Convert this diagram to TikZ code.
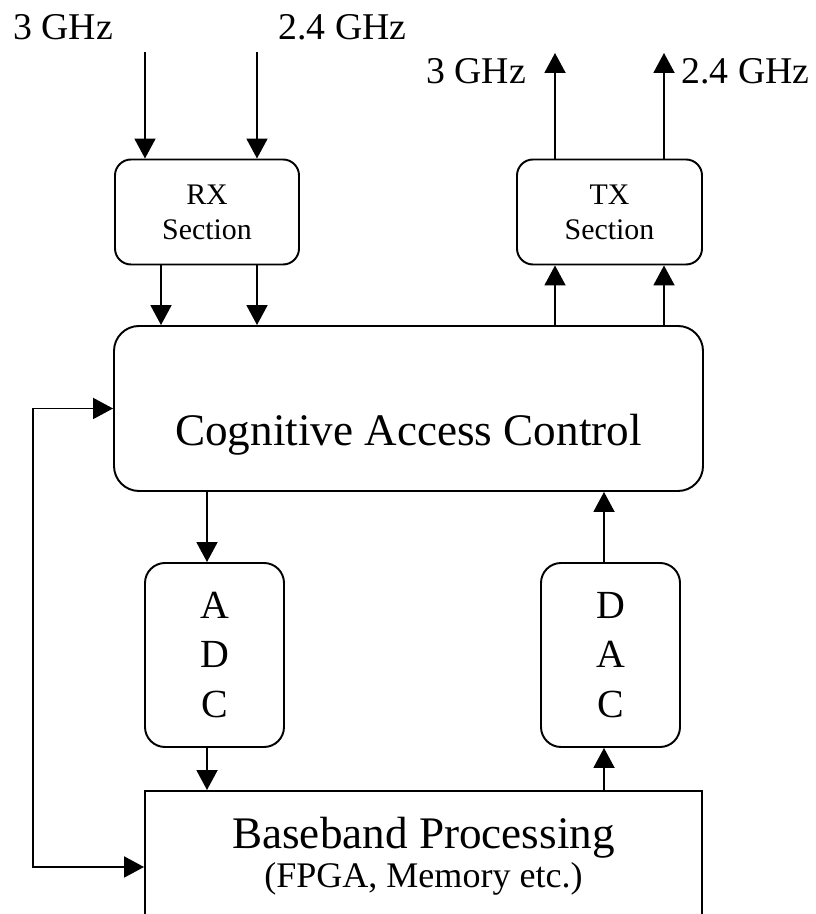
\documentclass[tikz,border=0pt]{standalone}
\usepackage{fontspec}
\setmainfont{Liberation Serif}
\usetikzlibrary{arrows.meta}

\begin{document}
\begin{tikzpicture}[line width=1.1pt, >={Triangle[length=0.4cm,width=0.42cm]},
        blk/.style={draw, rounded corners=0.32cm, align=center, inner sep=0pt},
        lbl/.style={font=\fontsize{21.5}{24}\selectfont, anchor=base}]
    \useasboundingbox (0,0) rectangle (16.32,18.28);

    % front ends
    \node[blk, minimum width=3.68cm, minimum height=2.1cm, font=\fontsize{17}{19.9}\selectfont] (rx) at (4.14,14.04) {RX\\Section};
    \node[blk, minimum width=3.7cm, minimum height=2.1cm, font=\fontsize{17}{19.9}\selectfont] (tx) at (12.19,14.04) {TX\\Section};

    \node[draw, rounded corners=0.5cm, minimum width=11.78cm, minimum height=3.3cm, text height=2.4cm, text depth=0.9cm, inner sep=0pt,
          font=\fontsize{25.7}{30}\selectfont] (cac) at (8.17,10.11) {Cognitive Access Control};

    % converters
    \node[blk, rounded corners=0.4cm, minimum width=2.78cm, minimum height=3.68cm, font=\fontsize{22.7}{28}\selectfont] (adc) at (4.29,5.18) {A\\D\\C};
    \node[blk, rounded corners=0.4cm, minimum width=2.78cm, minimum height=3.68cm, font=\fontsize{22.7}{28}\selectfont] (dac) at (12.21,5.18) {D\\A\\C};

    \node[draw, minimum width=11.14cm, minimum height=2.62cm, align=center, inner sep=0pt, font=\fontsize{25.7}{22}\selectfont] (bb) at (8.47,1.15)
        {Baseband Processing\\{\fontsize{20.5}{22}\selectfont (FPGA, Memory etc.)}};

    % band labels
    \node[lbl] (inlo) at (1.26,17.48) {3 GHz};
    \node[lbl] (inhi) at (6.85,17.48) {2.4 GHz};
    \node[lbl] (outlo) at (9.52,16.6) {3 GHz};
    \node[lbl] (outhi) at (14.91,16.6) {2.4 GHz};

    % receive side
    \coordinate (a) at (2.9,17.24);
    \coordinate (b) at (5.14,17.24);
    \coordinate (c) at (3.22,0);
    \draw[->] (a) -- (a |- rx.north);
    \draw[->] (b) -- (b |- rx.north);
    \draw[->] (c |- rx.south) -- (c |- cac.north);
    \draw[->] (b |- rx.south) -- (b |- cac.north);

    % transmit side
    \coordinate (d) at (11.1,17.22);
    \coordinate (e) at (13.28,17.22);
    \draw[->] (d |- cac.north) -- (d |- tx.south);
    \draw[->] (e |- cac.north) -- (e |- tx.south);
    \draw[->] (d |- tx.north) -- (d);
    \draw[->] (e |- tx.north) -- (e);

    \coordinate (f) at (4.14,0);
    \coordinate (g) at (12.08,0);
    \draw[->] (f |- cac.south) -- (f |- adc.north);
    \draw[->] (f |- adc.south) -- (f |- bb.north);
    \draw[->] (g |- bb.north) -- (g |- dac.south);
    \draw[->] (g |- dac.north) -- (g |- cac.south);

    % feedback loop
    \coordinate (h) at (0.66,0.94);
    \draw[<->] (cac.west) -| (h) -- (h -| bb.west);
\end{tikzpicture}
\end{document}
